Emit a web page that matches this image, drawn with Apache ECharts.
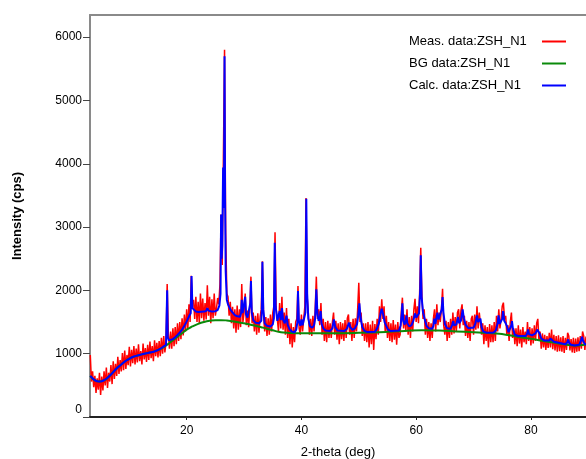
<!DOCTYPE html>
<html>
<head>
<meta charset="utf-8">
<script src="https://cdn.jsdelivr.net/npm/echarts@6/dist/echarts.min.js"></script>
<style>html,body{margin:0;padding:0;background:#fff;}#c{width:586px;height:459px;}</style>
</head>
<body>
<div id="c"></div>
<script>
// ---- data ----
var seriesNames = ['Meas. data:ZSH_N1', 'BG data:ZSH_N1', 'Calc. data:ZSH_N1'];
var yTickValues = [0, 1000, 2000, 3000, 4000, 5000, 6000];
var xTickValues = [20, 40, 60, 80];

// measured pattern: sampled every 0.2 deg from 3.2 deg
var measStart = 3.2, measStep = 0.2;
var measValues = [
 980,560,720,470,650,380,610,430,700,350,
 640,420,720,500,780,460,700,560,820,520,
 880,600,840,650,950,680,900,720,1010,740,
 1050,760,980,820,1110,800,1060,850,1120,830,
 1080,860,1150,880,1040,830,1160,910,1090,870,
 1140,900,1190,930,1120,880,1210,960,1170,940,
 1200,960,1250,1000,1280,1020,1180,2100,1320,1080,
 1350,1080,1400,1120,1420,1150,1480,1200,1500,1230,
 1560,1290,1620,1350,1700,1400,1780,1500,2230,1800,
 1850,1550,1900,1500,1820,1480,1950,1560,1870,1520,
 1800,1540,2080,1600,1900,1480,1860,1560,1950,1600,
 1720,1880,1780,2100,3200,2400,4100,5800,2900,1950,
 1900,1600,1820,1480,1740,1400,1700,1330,1760,1380,
 1700,1420,2100,1500,1650,1950,1450,1680,1420,1700,
 2217,1480,1650,1350,1600,1300,1640,1330,1580,1700,
 2460,1600,1350,1580,1280,1560,1300,1620,1350,1640,
 1750,2920,1700,1550,1350,1800,1400,1900,1380,1650,
 1300,1720,1250,1550,1150,1480,1100,1420,1180,1500,
 1550,2068,1400,1300,1620,1350,1550,1750,3460,1900,
 1650,1300,1550,1280,1600,1350,1700,2217,1550,1700,
 1450,1800,1300,1550,1200,1500,1180,1520,1250,1480,
 1250,1500,1650,1300,1520,1220,1480,1150,1500,1230,
 1480,1200,1530,1250,1560,1620,1300,1500,1200,1550,
 1250,1560,1350,1700,2122,1500,1650,1280,1480,1200,
 1480,1180,1500,1100,1460,1150,1520,1060,1470,1230,
 1550,1300,1750,1500,1858,1550,1750,1350,1600,1250,
 1500,1200,1480,1180,1530,1220,1460,1140,1500,1250,
 1300,1650,1885,1400,1620,1350,1700,1300,1580,1250,
 1600,1350,1700,1866,1500,1750,1480,1950,2675,1900,
 1550,1700,1300,1550,1250,1500,1200,1480,1250,1550,
 1700,1350,1780,1450,1650,1500,1700,2027,1450,1300,
 1520,1200,1500,1250,1550,1300,1650,1320,1580,1350,
 1650,1700,1400,1680,1780,1450,1600,1280,1520,1250,
 1500,1200,1550,1600,1300,1620,1380,1750,1400,1650,
 1650,1300,1480,1150,1450,1200,1420,1100,1470,1180,
 1450,1180,1500,1200,1600,1350,1700,1400,1550,1750,
 1806,1550,1600,1300,1450,1200,1500,1650,1250,1400,
 1150,1400,1120,1450,1160,1380,1100,1420,1180,1350,
 1150,1500,1200,1420,1130,1400,1160,1450,1200,1480,
 1550,1200,1350,1080,1320,1100,1300,1060,1280,1090,
 1330,1100,1380,1070,1300,1050,1280,1030,1290,1040,
 1260,1030,1280,1010,1250,1060,1330,1280,1050,1230,
 1020,1250,1010,1240,1030,1260,1040,1280,1080,1350,
 1280,1060,1270,1080
];

// background curve [2theta, intensity]
var bgPoints = [
 [3.2,650],[4.0,580],[4.8,560],[5.6,580],[6.4,635],[7.2,710],[8.0,785],[8.8,845],[9.6,900],[10.4,940],
 [11.2,965],[12.0,985],[12.8,1003],[13.6,1018],[14.4,1036],[15.2,1066],[16.0,1105],[17.0,1170],[18.0,1240],
 [19.0,1310],[20.0,1380],[21.0,1430],[22.0,1470],[23.0,1500],[24.0,1520],[25.0,1530],[26.0,1530],[27.0,1525],
 [28.0,1512],[29.0,1497],[30.0,1480],[31.0,1462],[32.0,1440],[33.0,1418],[34.0,1395],[35.0,1370],[36.0,1347],
 [37.0,1333],[38.0,1326],[40.0,1322],[45.0,1323],[50.0,1330],[55.0,1345],[58.0,1360],[61.0,1370],[64.0,1365],
 [67.0,1352],[70.0,1338],[72.0,1330],[74.0,1318],[76.0,1295],[78.0,1262],[80.0,1235],[82.0,1205],[84.0,1175],
 [86.0,1145],[87.5,1130],[88.5,1133],[89.8,1148]
];

// calculated pattern [2theta, intensity]
var calcPoints = [
 [3.2,650],[3.6,610],[4.0,580],[4.4,565],[4.8,560],[5.2,565],[5.6,580],[6.0,605],[6.4,635],[6.8,670],
 [7.2,710],[7.6,750],[8.0,785],[8.4,815],[8.8,845],[9.2,875],[9.6,900],[10.0,920],[10.4,940],[10.8,955],
 [11.2,965],[11.6,975],[12.0,985],[12.4,995],[12.8,1003],[13.2,1010],[13.6,1018],[14.0,1026],[14.4,1036],
 [14.8,1050],[15.2,1068],[15.6,1090],[16.0,1115],[16.4,1140],[16.5,1170],[16.6,2000],[16.7,1260],[16.9,1210],
 [17.2,1210],[17.6,1230],[18.0,1260],[18.4,1295],[18.8,1335],[19.2,1380],[19.6,1440],[20.0,1510],[20.4,1590],
 [20.7,1640],[20.85,2226],[21.0,1720],[21.2,1690],[21.6,1665],[22.0,1660],[23.0,1665],[23.4,1675],[23.6,1720],
 [23.8,1680],[24.4,1665],[25.0,1672],[25.4,1690],[25.7,1760],[25.9,1950],[26.0,3200],[26.1,2500],[26.2,2700],
 [26.35,3940],[26.5,3300],[26.6,5700],[26.7,3400],[26.8,2300],[27.0,1850],[27.2,1780],[27.6,1700],[28.0,1650],
 [28.4,1610],[28.8,1590],[29.3,1585],[29.5,1650],[29.6,1850],[29.75,1640],[30.0,1610],[30.2,1900],[30.35,1620],
 [30.6,1570],[30.9,1580],[31.1,1800],[31.2,2147],[31.35,1650],[31.6,1530],[32.0,1490],[32.6,1480],[33.0,1520],
 [33.1,1700],[33.2,2454],[33.35,1700],[33.6,1480],[34.0,1440],[34.6,1430],[35.0,1460],[35.2,1560],[35.35,2754],
 [35.5,1750],[35.8,1520],[36.0,1490],[36.2,1673],[36.4,1530],[36.6,1720],[36.8,1540],[37.1,1480],[37.4,1600],
 [37.6,1460],[37.9,1390],[38.3,1350],[38.8,1340],[39.1,1380],[39.3,1500],[39.4,1990],[39.55,1520],[39.8,1440],
 [40.0,1542],[40.2,1450],[40.5,1470],[40.7,1650],[40.85,3449],[41.0,1950],[41.2,1550],[41.5,1430],[41.9,1410],
 [42.2,1450],[42.4,1560],[42.6,2016],[42.8,1620],[43.0,1520],[43.2,1560],[43.35,1673],[43.5,1480],[43.8,1400],
 [44.2,1365],[45.0,1360],[45.4,1400],[45.65,1542],[45.9,1420],[46.3,1365],[47.5,1360],[47.9,1390],[48.1,1440],
 [48.3,1490],[48.5,1420],[48.9,1375],[49.3,1400],[49.7,1470],[49.9,1600],[50.1,1795],[50.3,1580],[50.6,1420],
 [51.0,1360],[51.5,1341],[52.8,1345],[53.2,1400],[53.5,1480],[53.8,1640],[54.0,1711],[54.2,1640],[54.5,1500],
 [54.8,1436],[55.1,1380],[55.6,1357],[57.0,1365],[57.3,1450],[57.5,1650],[57.6,1795],[57.75,1520],[58.0,1460],
 [58.2,1540],[58.3,1605],[58.45,1480],[58.8,1430],[59.2,1450],[59.5,1520],[59.8,1637],[60.0,1570],[60.2,1560],
 [60.5,1640],[60.7,2000],[60.8,2553],[60.95,1900],[61.2,1650],[61.5,1542],[61.8,1440],[62.2,1400],[62.8,1395],
 [63.0,1440],[63.15,1553],[63.35,1470],[63.55,1580],[63.7,1648],[63.9,1540],[64.2,1520],[64.45,1700],[64.6,1895],
 [64.75,1650],[65.0,1470],[65.4,1400],[66.0,1395],[66.3,1460],[66.45,1515],[66.6,1450],[67.0,1460],[67.3,1580],
 [67.5,1480],[67.8,1520],[68.1,1700],[68.3,1560],[68.6,1460],[69.1,1400],[69.6,1410],[69.8,1436],[70.0,1410],
 [70.3,1470],[70.6,1605],[70.8,1500],[71.0,1480],[71.2,1553],[71.4,1420],[71.7,1350],[72.2,1332],[73.5,1335],
 [73.9,1370],[74.2,1480],[74.35,1605],[74.55,1470],[74.8,1440],[75.0,1550],[75.15,1673],[75.35,1520],[75.6,1480],
 [75.8,1440],[76.1,1340],[76.4,1350],[76.6,1450],[76.7,1515],[76.85,1400],[77.2,1300],[77.8,1280],[79.1,1280],
 [79.35,1320],[79.5,1384],[79.65,1310],[80.2,1290],[80.8,1320],[81.1,1380],[81.25,1411],[81.5,1320],[81.8,1240],
 [82.3,1210],[83.2,1208],[83.4,1240],[83.5,1268],[83.65,1220],[84.0,1190],[85.0,1170],[86.0,1150],[86.35,1180],
 [86.5,1226],[86.65,1170],[87.0,1140],[87.6,1131],[88.4,1140],[88.7,1200],[88.9,1268],[89.1,1200],[89.4,1150],
 [89.8,1145]
];

// ---- chart ----
var measPoints = measValues.map(function (v, i) {
  return [Math.round((measStart + i * measStep) * 10) / 10, v];
});

var FONT = 'Liberation Sans, Arial, sans-serif';
var chart = echarts.init(document.getElementById('c'), null, {renderer: 'canvas'});
chart.setOption({
  animation: false,
  backgroundColor: '#ffffff',
  textStyle: {fontFamily: FONT},
  grid: {
    left: 90, top: 15, right: 0, bottom: 42,
    outerBoundsMode: 'none',
    containLabel: false,
    show: false
  },
  legend: {
    orient: 'vertical',
    left: 409, top: 35,
    padding: 0,
    align: 'right',
    icon: 'rect',
    itemWidth: 24, itemHeight: 2, itemGap: 9,
    formatter: function (name) { return '{t|' + name + '}'; },
    textStyle: {
      fontSize: 13, color: '#000', fontFamily: FONT,
      rich: {t: {width: 128, align: 'left', fontSize: 13, lineHeight: 14, color: '#000', fontFamily: FONT}}
    },
    data: seriesNames
  },
  xAxis: [{
    type: 'value',
    min: 3.15, max: 89.6,
    name: '2-theta (deg)',
    nameLocation: 'middle',
    nameGap: 29,
    nameTextStyle: {fontSize: 13, color: '#000'},
    axisLine: {show: true, onZero: false, lineStyle: {color: '#222', width: 2}},
    axisTick: {show: true, length: 3, customValues: xTickValues, lineStyle: {color: '#222'}},
    axisLabel: {customValues: xTickValues, fontSize: 12, color: '#000', margin: 8},
    splitLine: {show: false}
  }, {
    type: 'value',
    position: 'top',
    min: 3.15, max: 89.6,
    axisLine: {show: true, onZero: false, lineStyle: {color: '#8a8a8a', width: 2}},
    axisTick: {show: false},
    axisLabel: {show: false},
    splitLine: {show: false}
  }],
  yAxis: {
    type: 'value',
    min: 0, max: 6350,
    name: 'Intensity (cps)',
    nameLocation: 'middle',
    nameGap: 66,
    nameTextStyle: {fontSize: 13, fontWeight: 'bold', color: '#000'},
    axisLine: {show: true, onZero: false, lineStyle: {color: '#8a8a8a', width: 2}},
    axisTick: {show: true, length: 7, customValues: yTickValues, lineStyle: {color: '#444'}},
    axisLabel: {customValues: yTickValues, fontSize: 12, color: '#000', margin: 8,
      formatter: function (v) { return v === 0 ? '{z|0}' : String(v); },
      rich: {z: {fontSize: 12, color: '#000', padding: [0, 0, 14, 0]}}},
    splitLine: {show: false}
  },
  series: [
    {
      name: seriesNames[0], type: 'line', data: measPoints,
      symbol: 'none', lineStyle: {color: '#ff0000', width: 1.5}, itemStyle: {color: '#ff0000'}, z: 2
    },
    {
      name: seriesNames[1], type: 'line', data: bgPoints, smooth: true,
      symbol: 'none', lineStyle: {color: '#0a8a0a', width: 2}, itemStyle: {color: '#0a8a0a'}, z: 3
    },
    {
      name: seriesNames[2], type: 'line', data: calcPoints,
      symbol: 'none', lineStyle: {color: '#0000ff', width: 2}, itemStyle: {color: '#0000ff'}, z: 4
    }
  ]
});
</script>
</body>
</html>
